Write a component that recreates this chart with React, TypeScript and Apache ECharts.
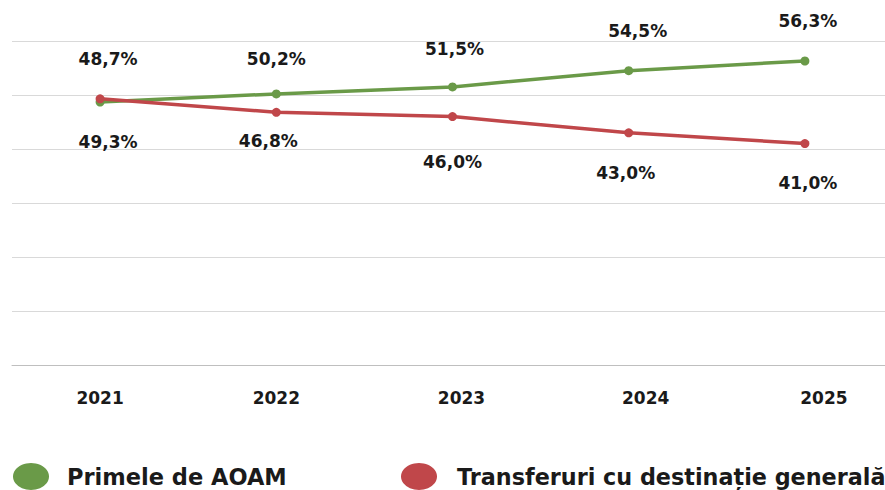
import React, { useEffect, useRef } from "react";
import * as echarts from "echarts";

const years = ["2021", "2022", "2023", "2024", "2025"];
const primeleAOAM = [48.7, 50.2, 51.5, 54.5, 56.3];
const transferuri = [49.3, 46.8, 46.0, 43.0, 41.0];
const seriesNames = ["Primele de AOAM", "Transferuri cu destinație generală"];

// label nudges (styling only, in pixels) to follow the reference's label placement
const greenLabelNudge = [
  [8, -5],
  [0, 3],
  [2, 0],
  [9, -2],
  [3, -2],
];
const redLabelNudge = [
  [8, 5],
  [-8, -9],
  [0, 7],
  [-3, 2],
  [3, 1],
];
const yearLabelShift = [0, 0, 9, 17, 19];

const FONT = "DejaVu Sans";
const GREEN = "#6a9a48";
const RED = "#c0474a";
const ELLIPSE = "path://M50,0A50,50,0,1,1,49.99,0Z";
const fmt = (v: number) => v.toFixed(1).replace(".", ",") + "%";

export default function App() {
  const ref = useRef<HTMLDivElement>(null);
  useEffect(() => {
    document.body.style.margin = "0";
    const chart = echarts.init(ref.current!, null, { renderer: "svg" });
    const labelStyle = {
      show: true,
      fontFamily: FONT,
      fontWeight: "bold" as const,
      fontSize: 17,
      color: "#1a1a1a",
      formatter: (p: any) => fmt(p.value),
    };
    const build = (vals: number[], nudges: number[][]) =>
      vals.map((v, i) => ({ value: v, label: { offset: nudges[i] } }));
    const legendItem = (name: string, left: number, fontSize: number, gap: number) => ({
      data: [name],
      left,
      top: 458,
      icon: ELLIPSE,
      symbolKeepAspect: false,
      itemWidth: 36,
      itemHeight: 27,
      textStyle: {
        fontFamily: FONT,
        fontWeight: "bold",
        fontSize,
        color: "#1a1a1a",
        padding: [0, 0, 0, gap],
      },
    });
    chart.setOption({
      animation: false,
      grid: {
        left: 12,
        width: 881,
        top: 41,
        height: 324,
        containLabel: false,
        outerBoundsMode: "none",
      },
      legend: [
        legendItem(seriesNames[0], 8, 22.5, 13),
        legendItem(seriesNames[1], 396, 22.3, 15),
      ],
      xAxis: {
        type: "category",
        data: years.map((y, i) => ({
          value: y,
          textStyle: { padding: [0, 0, 0, yearLabelShift[i] * 2] },
        })),
        boundaryGap: true,
        axisLine: { show: true, lineStyle: { color: "#bfbfbf", width: 1 } },
        axisTick: { show: false },
        axisLabel: {
          fontFamily: FONT,
          fontWeight: "bold",
          fontSize: 17,
          color: "#1a1a1a",
          margin: 24,
        },
      },
      yAxis: {
        type: "value",
        min: 0,
        max: 60,
        interval: 10,
        axisLabel: { show: false },
        axisLine: { show: false },
        axisTick: { show: false },
        splitLine: { lineStyle: { color: "#d9d9d9", width: 1 } },
      },
      series: [
        {
          name: seriesNames[0],
          type: "line",
          data: build(primeleAOAM, greenLabelNudge),
          color: GREEN,
          symbol: "circle",
          symbolSize: 9,
          lineStyle: { width: 3.5, color: GREEN },
          itemStyle: { color: GREEN },
          label: { ...labelStyle, position: "top", distance: 25 },
        },
        {
          name: seriesNames[1],
          type: "line",
          data: build(transferuri, redLabelNudge),
          color: RED,
          symbol: "circle",
          symbolSize: 9,
          lineStyle: { width: 3.5, color: RED },
          itemStyle: { color: RED },
          label: { ...labelStyle, position: "bottom", distance: 25 },
        },
      ],
    });
    return () => chart.dispose();
  }, []);
  return <div ref={ref} style={{ width: 885, height: 490 }} />;
}
